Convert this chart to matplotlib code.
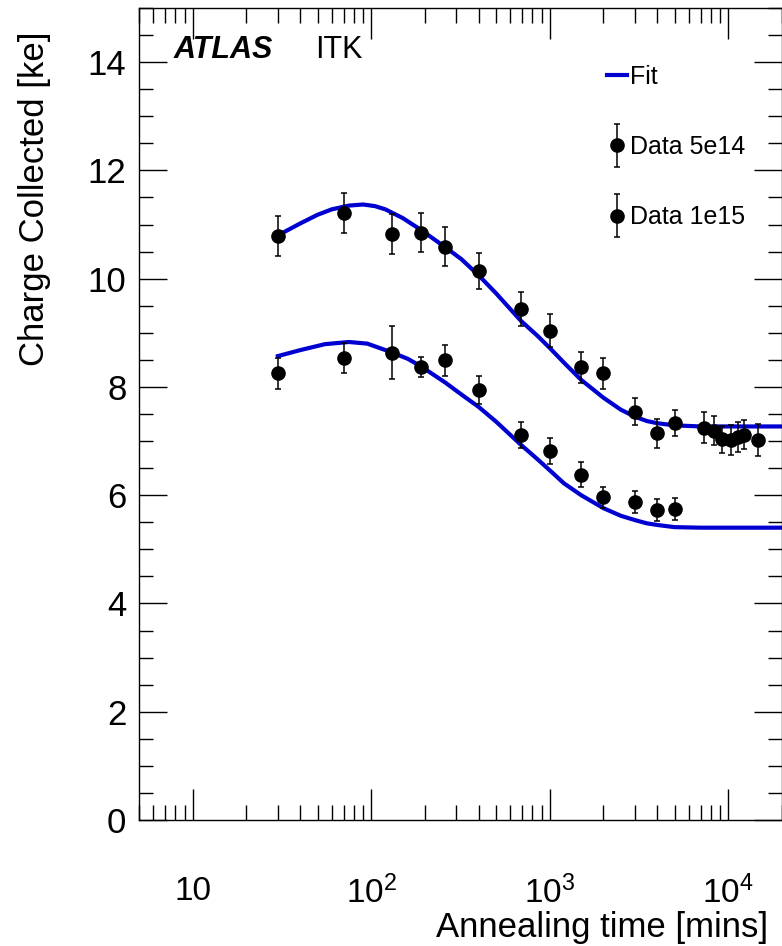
import numpy as np
import matplotlib
matplotlib.use('Agg')
import matplotlib.pyplot as plt
from matplotlib.ticker import FixedLocator, FixedFormatter, LogLocator, MultipleLocator
from matplotlib.container import ErrorbarContainer
from matplotlib.legend_handler import HandlerErrorbar

plt.rcParams['font.family'] = ['Liberation Sans', 'DejaVu Sans']
plt.rcParams['mathtext.fontset'] = 'custom'
plt.rcParams['mathtext.rm'] = 'Liberation Sans'

# data 5e14
t_5e14 = [30, 70, 130, 190, 260, 400, 690, 1000, 1500, 2000, 3000, 4000, 5000,
          7300, 8300, 9200, 10300, 11300, 12300, 14700]
q_5e14 = [10.79, 11.22, 10.82, 10.85, 10.59, 10.14, 9.44, 9.04, 8.36, 8.25, 7.54, 7.14, 7.33,
          7.25, 7.19, 7.03, 7.02, 7.08, 7.12, 7.02]
e_5e14 = [0.37, 0.37, 0.37, 0.36, 0.36, 0.34, 0.32, 0.30, 0.28, 0.28, 0.25, 0.26, 0.24,
          0.28, 0.27, 0.25, 0.28, 0.28, 0.27, 0.29]

# data 1e15
t_1e15 = [30, 70, 130, 190, 260, 400, 690, 1000, 1500, 2000, 3000, 4000, 5000]
q_1e15 = [8.25, 8.54, 8.63, 8.37, 8.49, 7.95, 7.12, 6.81, 6.38, 5.96, 5.88, 5.73, 5.74]
e_1e15 = [0.28, 0.28, 0.49, 0.19, 0.29, 0.26, 0.24, 0.24, 0.23, 0.20, 0.20, 0.20, 0.20]

# fit curves
fit_t_hi = [30, 40, 50, 60, 75, 90, 105, 120, 150, 190, 260, 320, 400, 500, 690, 850,
            1000, 1200, 1500, 2000, 2500, 3000, 3500, 4000, 5000, 7000, 20000]
fit_q_hi = [10.80, 11.02, 11.18, 11.28, 11.35, 11.37, 11.34, 11.28, 11.12, 10.90, 10.58, 10.36,
            10.06, 9.73, 9.22, 8.95, 8.72, 8.45, 8.13, 7.80, 7.58, 7.45, 7.37, 7.33, 7.29, 7.27, 7.27]
fit_t_lo = [30, 40, 55, 75, 95, 130, 160, 190, 260, 320, 400, 500, 690, 850, 1000, 1200,
            1500, 2000, 2500, 3000, 3500, 4000, 5000, 7000, 20000]
fit_q_lo = [8.57, 8.68, 8.79, 8.83, 8.80, 8.64, 8.52, 8.38, 8.08, 7.86, 7.63, 7.36, 6.93, 6.67,
            6.46, 6.22, 6.00, 5.76, 5.62, 5.54, 5.48, 5.45, 5.41, 5.40, 5.40]

fig = plt.figure(figsize=(7.82, 9.46), dpi=100)
ax = fig.add_axes([139/782, 126/946, 643/782, 812/946])

blue = '#0000d0'
ax.plot(fit_t_hi, fit_q_hi, color=blue, lw=3, label='Fit', zorder=2, solid_joinstyle='round')
ax.plot(fit_t_lo, fit_q_lo, color=blue, lw=3, zorder=2, solid_joinstyle='round')
d1 = ax.errorbar(t_5e14, q_5e14, yerr=e_5e14, fmt='o', color='black', ms=9.5,
                 elinewidth=1.1, capsize=2.4, capthick=1.1, label='Data 5e14', zorder=3)
d2 = ax.errorbar(t_1e15, q_1e15, yerr=e_1e15, fmt='o', color='black', ms=9.5,
                 elinewidth=1.1, capsize=2.4, capthick=1.1, label='Data 1e15', zorder=3)

ax.set_xscale('log')
ax.set_xlim(5, 2e4)
ax.set_ylim(0, 15)

ax.xaxis.set_major_locator(FixedLocator([10, 100, 1000, 10000]))
ax.xaxis.set_major_formatter(FixedFormatter(['10', r'$\mathregular{10^{2}}$',
                                             r'$\mathregular{10^{3}}$', r'$\mathregular{10^{4}}$']))
ax.xaxis.set_minor_locator(LogLocator(base=10, subs=np.arange(2, 10), numticks=20))
ax.xaxis.set_minor_formatter(FixedFormatter([]))
ax.yaxis.set_major_locator(MultipleLocator(2))
ax.yaxis.set_minor_locator(MultipleLocator(0.5))

ax.tick_params(which='both', direction='in', top=True, right=True, width=1)
ax.tick_params(which='major', length=22)
ax.tick_params(which='minor', length=11)
ax.tick_params(axis='x', which='major', labelsize=24, pad=40)
ax.tick_params(axis='y', which='major', labelsize=25, pad=9, length=20)
ax.tick_params(axis='y', which='minor', length=10)
for s in ax.spines.values():
    s.set_linewidth(1)

ax.text(0.054, 0.948, 'ATLAS', transform=ax.transAxes, fontsize=22,
        fontweight='bold', fontstyle='italic', va='center', ha='left')
ax.text(0.274, 0.948, 'ITK', transform=ax.transAxes, fontsize=22, va='center', ha='left')

leg = ax.legend(handles=[ax.lines[0], d1, d2], loc='upper left',
                bbox_to_anchor=(0.728, 0.93), frameon=False, fontsize=18,
                handlelength=0.8, handletextpad=0.1, labelspacing=1.85,
                borderpad=0, borderaxespad=0,
                handler_map={ErrorbarContainer: HandlerErrorbar(yerr_size=0.85)})

fig.text(768/782, 1 - 944/946, 'Annealing time [mins]', fontsize=25, ha='right', va='bottom')
fig.text(35/782, 1 - 32/946, 'Charge Collected [ke]', fontsize=25, rotation=90,
         ha='center', va='top')

fig.savefig('out.png', dpi=100)
